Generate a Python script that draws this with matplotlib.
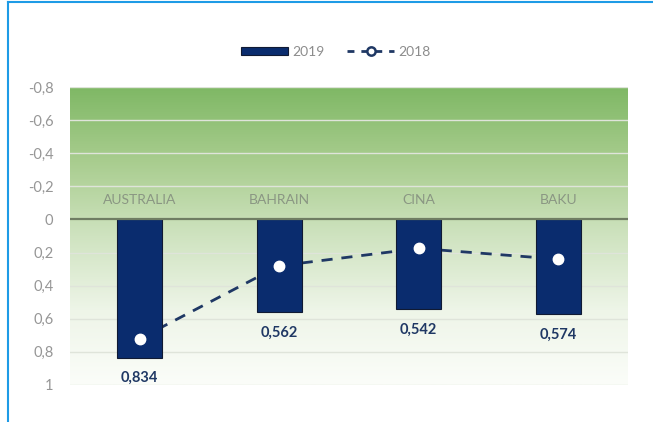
import numpy as np
import matplotlib
matplotlib.use("Agg")
import matplotlib.pyplot as plt
from matplotlib.colors import LinearSegmentedColormap
from matplotlib.lines import Line2D
from matplotlib.patches import Rectangle
from matplotlib.ticker import FuncFormatter

plt.rcParams['font.family'] = ['Lato', 'DejaVu Sans']

categories = ["AUSTRALIA", "BAHRAIN", "CINA", "BAKU"]
values_2019 = [0.834, 0.562, 0.542, 0.574]
values_2018 = [0.72, 0.28, 0.175, 0.24]
y_ticks = [-0.8, -0.6, -0.4, -0.2, 0, 0.2, 0.4, 0.6, 0.8, 1]

navy = "#0a2c6e"
line_col = "#1f3864"
grey_txt = "#8c8c8c"

fig = plt.figure(figsize=(6.53, 4.22), dpi=100)
ax = fig.add_axes([70 / 653, 1 - 385 / 422, 558 / 653, 298 / 422])

x = np.arange(len(categories))

# vertical green-to-white gradient behind the plot
cmap = LinearSegmentedColormap.from_list(
    "bg", ["#7fb865", "#a9cd8f", "#cfe3c0", "#eef5e8", "#fbfdf9"])
grad = np.linspace(0, 1, 256).reshape(-1, 1)
ax.imshow(grad, cmap=cmap, aspect="auto", extent=[0, 1, 0, 1],
          transform=ax.transAxes, zorder=0, origin="upper")

ax.set_xlim(-0.5, len(categories) - 0.5)
ax.set_ylim(1, -0.8)

for t in y_ticks:
    if t != 0:
        ax.axhline(t, color="#dfe4da", lw=1.0, zorder=1)
ax.axhline(0, color="#6f7d63", lw=1.6, zorder=4)

# 2018 dashed line sits behind the bars, its markers on top
ax.plot(x, values_2018, color=line_col, lw=2.0, dashes=(4, 3.2), zorder=1.5)
bars = ax.bar(x, values_2019, width=0.32, color=navy, edgecolor="#101a33",
              linewidth=0.8, zorder=2)
ax.plot(x, values_2018, ls="none", marker="o", ms=7.5, mfc="white",
        mec="white", zorder=3)

for xi, v in zip(x, values_2019):
    ax.text(xi, v + 0.125, f"{v:.3f}".replace(".", ","), ha="center", va="center",
            fontsize=10.5, fontweight="bold", color="#1f3864", zorder=5)

for xi, name in zip(x, categories):
    ax.text(xi, -0.12, name, ha="center", va="center", fontsize=10,
            color="#8a9683", zorder=5)

ax.set_yticks(y_ticks)
ax.yaxis.set_major_formatter(FuncFormatter(
    lambda v, p: "0" if abs(v) < 1e-9 else ("1" if abs(v - 1) < 1e-9
                                            else f"{v:.1f}".replace(".", ","))))
ax.tick_params(axis="y", length=0, labelsize=10.5, labelcolor="#969696", pad=12)
ax.set_xticks([])
for s in ax.spines.values():
    s.set_visible(False)

handles = [Rectangle((0, 0), 1, 1, facecolor=navy, edgecolor="#101a33", lw=0.8),
           Line2D([0], [0], color=line_col, lw=2.0, dashes=(2.5, 2.5),
                  marker="o", ms=6, mfc="white", mec=line_col, mew=1.8)]
fig.legend(handles, ["2019", "2018"], loc="center", bbox_to_anchor=(336 / 653, 1 - 52 / 422),
           ncol=2, frameon=False, fontsize=10, labelcolor=grey_txt,
           handlelength=3.4, handleheight=0.55, columnspacing=1.6, handletextpad=0.3)

# light blue frame on the left and top edges
fig.add_artist(Line2D([7.5 / 653, 7.5 / 653], [0, 1 - 1.5 / 422], color="#1e9be6",
                      lw=1.5, transform=fig.transFigure))
fig.add_artist(Line2D([7.5 / 653, 1], [1 - 1.5 / 422, 1 - 1.5 / 422], color="#1e9be6",
                      lw=1.5, transform=fig.transFigure))

fig.savefig("out.png", dpi=100)
